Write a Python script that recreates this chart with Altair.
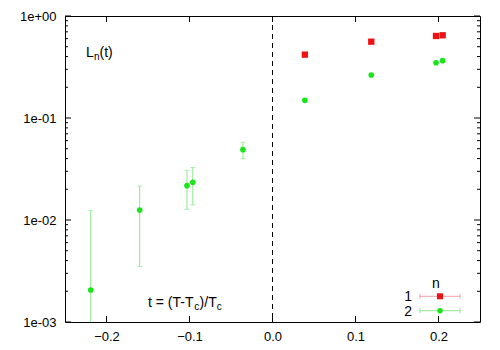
import altair as alt
import pandas as pd

# ---- data ----
x_green = [-0.219, -0.160, -0.103, -0.096, -0.0356, 0.039, 0.119, 0.197, 0.205]
y_green = [0.00206, 0.0125, 0.0217, 0.0234, 0.0489, 0.149, 0.264, 0.348, 0.365]
err_green = [0.0103, 0.0090, 0.0090, 0.0093, 0.0090, 0.0, 0.0, 0.0, 0.0]

x_red = [0.039, 0.119, 0.197, 0.205]
y_red = [0.418, 0.560, 0.637, 0.647]

x_ticks = [-0.2, -0.1, 0.0, 0.1, 0.2]
y_major = [1e-3, 1e-2, 1e-1, 1.0]
y_labels = ["1e-03", "1e-02", "1e-01", "1e+00"]
y_minor = [k * 10.0 ** d for d in (-3, -2, -1) for k in range(2, 10)]

W, H = 415, 306
FONT = "Liberation Sans"
GREEN = "#19e619"
GREEN_ERR = "#8ee88e"
RED = "#ee1111"
RED_ERR = "#f5a0a0"

green = pd.DataFrame({"x": x_green, "y": y_green, "e": err_green})
green["lo"] = (green["y"] - green["e"]).clip(lower=1e-5)
green["hi"] = green["y"] + green["e"]
gerr = green[green["e"] > 0]
red = pd.DataFrame({"x": x_red, "y": y_red})

xs = alt.Scale(domain=[-0.25, 0.25], nice=False, zero=False)
ys = alt.Scale(type="log", domain=[1e-3, 1.0], nice=False)

label_expr = " : ".join(
    f"datum.value < {v * 3.0} ? '{lab}'" for v, lab in zip(y_major[:-1], y_labels[:-1])
) + f" : '{y_labels[-1]}'"

xaxis = alt.Axis(values=x_ticks, format=".1f", ticks=False, domain=False, grid=False,
                 labelFont=FONT, labelFontSize=13, labelColor="black", labelPadding=8,
                 title=None)
yaxis = alt.Axis(values=y_major, labelExpr=label_expr, ticks=False, domain=False, grid=False,
                 labelFont=FONT, labelFontSize=13, labelColor="black", labelPadding=9,
                 title=None)

base_x = alt.X("x:Q", scale=xs, axis=xaxis)
base_y = alt.Y("y:Q", scale=ys, axis=yaxis)

# error bars
err_rule = alt.Chart(gerr).mark_rule(color=GREEN_ERR, strokeWidth=1, clip=True).encode(
    x=base_x, y=alt.Y("lo:Q", scale=ys, axis=yaxis), y2="hi:Q")
cap_hi = alt.Chart(gerr).mark_tick(color=GREEN_ERR, orient="horizontal", size=5,
                                   thickness=1, clip=True).encode(
    x=base_x, y=alt.Y("hi:Q", scale=ys, axis=yaxis))
cap_lo = alt.Chart(gerr).mark_tick(color=GREEN_ERR, orient="horizontal", size=5,
                                   thickness=1, clip=True).encode(
    x=base_x, y=alt.Y("lo:Q", scale=ys, axis=yaxis))

pts_green = alt.Chart(green).mark_point(shape="circle", filled=True, size=32,
                                        color=GREEN, opacity=1).encode(x=base_x, y=base_y)
pts_red = alt.Chart(red).mark_point(shape="square", filled=True, size=40,
                                    color=RED, opacity=1).encode(x=base_x, y=base_y)

zero_line = alt.Chart(pd.DataFrame({"x": [0.0]})).mark_rule(
    color="black", strokeDash=[5, 4], strokeWidth=1).encode(x=base_x)

# inward ticks (gnuplot style, mirrored)
ymaj = pd.DataFrame({"y": y_major})
ymin = pd.DataFrame({"y": y_minor})
xt = pd.DataFrame({"x": x_ticks})
tick_layers = []
for df, ln in ((ymaj, 6), (ymin, 3)):
    tick_layers.append(alt.Chart(df).mark_rule(color="black", strokeWidth=1).encode(
        y=base_y, x=alt.value(0), x2=alt.value(ln)))
    tick_layers.append(alt.Chart(df).mark_rule(color="black", strokeWidth=1).encode(
        y=base_y, x=alt.value(W - ln), x2=alt.value(W)))
tick_layers.append(alt.Chart(xt).mark_rule(color="black", strokeWidth=1).encode(
    x=base_x, y=alt.value(H - 6), y2=alt.value(H)))
tick_layers.append(alt.Chart(xt).mark_rule(color="black", strokeWidth=1).encode(
    x=base_x, y=alt.value(0), y2=alt.value(6)))

# text labels
def txt(s, x, y, size=14, align="left"):
    return alt.Chart(pd.DataFrame({"t": [s]})).mark_text(
        font=FONT, fontSize=size, align=align, baseline="alphabetic", color="black").encode(
        text="t:N", x=alt.value(x), y=alt.value(y))

texts = [
    txt("L", 21, 41), txt("n", 29, 44, 10), txt("(t)", 34.5, 41),
    txt("t = (T-T", 83, 291), txt("c", 129.3, 294, 10), txt(")/T", 134.6, 291),
    txt("c", 151.7, 294, 10),
    txt("n", 371, 272, 14, "center"),
    txt("1", 347, 285, 14, "right"), txt("2", 347, 299.5, 14, "right"),
]

# legend samples
def leg(y, color, errc, shape, size):
    line = alt.Chart(pd.DataFrame({"a": [0]})).mark_rule(color=errc, strokeWidth=1).encode(
        x=alt.value(355), x2=alt.value(395), y=alt.value(y))
    c1 = alt.Chart(pd.DataFrame({"a": [0]})).mark_rule(color=errc, strokeWidth=1).encode(
        x=alt.value(355), y=alt.value(y - 2.5), y2=alt.value(y + 2.5))
    c2 = alt.Chart(pd.DataFrame({"a": [0]})).mark_rule(color=errc, strokeWidth=1).encode(
        x=alt.value(395), y=alt.value(y - 2.5), y2=alt.value(y + 2.5))
    m = alt.Chart(pd.DataFrame({"a": [0]})).mark_point(shape=shape, filled=True, size=size,
                                                       color=color, opacity=1).encode(
        x=alt.value(375), y=alt.value(y))
    return [line, c1, c2, m]

legend = leg(280.3, RED, RED_ERR, "square", 36) + leg(294.7, GREEN, GREEN_ERR, "circle", 30)

chart = alt.layer(
    zero_line, err_rule, cap_hi, cap_lo, pts_red, pts_green, *tick_layers, *texts, *legend
).properties(
    width=W, height=H,
    padding={"left": 57, "top": 8, "right": 12, "bottom": 26},
    autosize=alt.AutoSizeParams(type="none"),
).configure_view(stroke="black", strokeWidth=1)

chart.save("out.html", embed_options={"renderer": "svg", "actions": False})
